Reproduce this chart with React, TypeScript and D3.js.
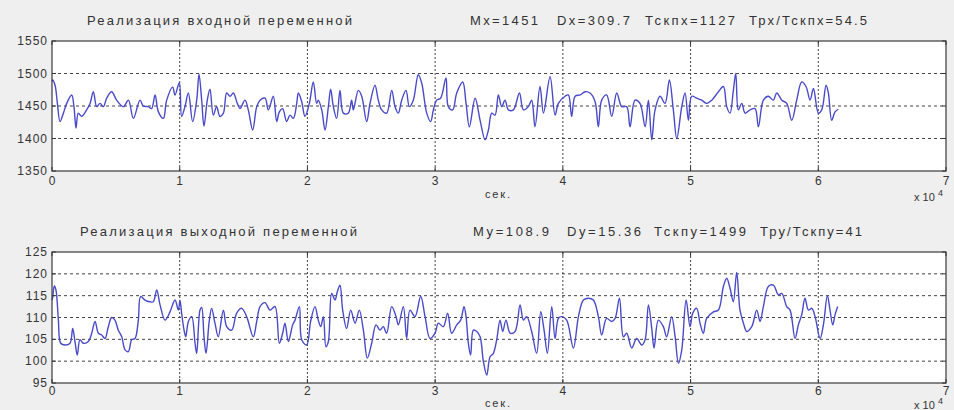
import React from "react";
import * as d3 from "d3";

// Time axis ticks (seconds) and their labels (×10^4)
const xTicks = [0, 10000, 20000, 30000, 40000, 50000, 60000, 70000];
const xTickLabels = ["0", "1", "2", "3", "4", "5", "6", "7"];

const inputTicks = [1350, 1400, 1450, 1500, 1550];
const outputTicks = [95, 100, 105, 110, 115, 120, 125];

// Input variable realisation: time (s) and value
const inputTime = [
  0, 50, 240, 420, 630, 890, 1150, 1540, 1720, 1880, 2060, 2320, 2710, 2980, 3240, 3500, 3760, 4020, 4280, 4670,
  5060, 5590, 5980, 6370, 6890, 7150, 7540, 7800, 8070, 8330, 8720, 8980, 9450, 9630, 9970, 10150, 10410, 10680,
  11010, 11330, 11510, 11720, 11900, 12160, 12370, 12630, 12890, 13150, 13420, 13680, 13940, 14200, 14510, 14720,
  15110, 15370, 15710, 16030, 16290, 16680, 16940, 17330, 17590, 17800, 18060, 18370, 18640, 18900, 19160, 19290,
  19550, 19810, 20150, 20460, 20720, 20850, 21120, 21380, 21640, 21820, 22030, 22290, 22550, 22810, 23200, 23460,
  23590, 23990, 24250, 24640, 24900, 25290, 25550, 25810, 26200, 26600, 26860, 27120, 27380, 27720, 27980, 28290,
  28680, 28950, 29340, 29650, 29860, 30120, 30430, 30850, 31030, 31370, 31690, 32160, 32420, 32680, 33130, 33520,
  33910, 34170, 34430, 34690, 34950, 35210, 35470, 35740, 36130, 36600, 36910, 37300, 37560, 37820, 38210, 38480,
  39000, 39390, 39650, 40170, 40430, 40690, 40960, 41350, 41740, 42130, 42520, 42780, 43040, 43430, 43830, 44220,
  44610, 45000, 45260, 45650, 46040, 46440, 46700, 46960, 47220, 47610, 48000, 48340, 48650, 48920, 49310, 49570,
  49830, 50090, 50480, 50870, 51260, 51660, 52180, 52570, 52830, 53090, 53350, 53540, 53740, 54010, 54270, 54660,
  55050, 55310, 55700, 56090, 56480, 56750, 57140, 57530, 57920, 58310, 58700, 59040, 59360, 59620, 60010, 60270,
  60610, 60790, 61050, 61310, 61570,
];
const inputValues = [
  1488, 1490, 1482, 1454, 1426, 1439, 1454, 1467, 1449, 1416, 1439, 1434, 1444, 1454, 1472, 1449, 1454, 1449, 1462,
  1472, 1459, 1449, 1459, 1431, 1459, 1450, 1449, 1446, 1467, 1441, 1431, 1459, 1479, 1467, 1486, 1434, 1449, 1470,
  1426, 1459, 1499, 1459, 1419, 1459, 1476, 1436, 1449, 1434, 1439, 1470, 1465, 1470, 1454, 1446, 1459, 1444, 1413,
  1449, 1459, 1462, 1444, 1465, 1426, 1441, 1446, 1426, 1436, 1431, 1454, 1470, 1457, 1434, 1454, 1487, 1454, 1459,
  1444, 1413, 1449, 1476, 1449, 1431, 1474, 1439, 1439, 1459, 1444, 1474, 1465, 1426, 1454, 1482, 1459, 1444, 1439,
  1474, 1449, 1439, 1459, 1474, 1449, 1459, 1498, 1485, 1439, 1426, 1444, 1459, 1462, 1493, 1449, 1444, 1470, 1487,
  1454, 1418, 1462, 1428, 1398, 1413, 1439, 1436, 1467, 1449, 1459, 1444, 1444, 1470, 1444, 1449, 1459, 1418, 1480,
  1439, 1495, 1436, 1454, 1465, 1467, 1434, 1465, 1467, 1472, 1470, 1457, 1418, 1459, 1467, 1434, 1470, 1449, 1449,
  1418, 1459, 1454, 1418, 1459, 1398, 1444, 1465, 1454, 1490, 1444, 1400, 1449, 1470, 1428, 1465, 1462, 1459, 1454,
  1459, 1472, 1480, 1449, 1439, 1474, 1500, 1444, 1454, 1439, 1444, 1446, 1418, 1459, 1465, 1459, 1470, 1459, 1454,
  1428, 1459, 1487, 1480, 1459, 1477, 1439, 1444, 1482, 1470, 1428, 1441, 1445,
];

// Output variable realisation: time (s) and value
const outputTime = [
  0, 50, 180, 310, 500, 680, 1020, 1410, 1620, 1800, 1980, 2190, 2450, 2850, 3110, 3370, 3630, 3890, 4150, 4410,
  4670, 4930, 5190, 5460, 5720, 5980, 6240, 6500, 6760, 6940, 7280, 7670, 7930, 8200, 8460, 8850, 9240, 9630, 9890,
  10020, 10150, 10340, 10470, 10680, 10940, 11200, 11330, 11590, 11720, 11900, 12060, 12320, 12500, 12760, 13020,
  13420, 13680, 14070, 14460, 14850, 15240, 15760, 16030, 16290, 16680, 17070, 17460, 17800, 18060, 18240, 18510,
  18840, 19030, 19370, 19550, 19940, 20250, 20590, 20850, 21040, 21250, 21450, 21640, 21900, 22160, 22340, 22550,
  22760, 23070, 23390, 23730, 24060, 24380, 24690, 25030, 25370, 25680, 25940, 26200, 26600, 26940, 27120, 27510,
  27770, 28030, 28420, 28870, 29210, 29600, 29990, 30250, 30640, 30980, 31290, 31690, 32000, 32260, 32420, 32600,
  32780, 32990, 33260, 33520, 33780, 34040, 34300, 34560, 34820, 35080, 35290, 35550, 35870, 36260, 36650, 36910,
  37170, 37560, 37950, 38270, 38530, 38790, 39130, 39390, 39650, 39910, 40300, 40820, 41220, 41610, 42000, 42390,
  42780, 43040, 43430, 43830, 44090, 44430, 44740, 45000, 45390, 45780, 46180, 46440, 46700, 46960, 47140, 47480,
  47870, 48130, 48520, 48790, 49050, 49310, 49650, 49960, 50170, 50480, 50740, 51000, 51260, 51790, 52180, 52570,
  52830, 53090, 53350, 53610, 53870, 54140, 54400, 54790, 55180, 55440, 55700, 56090, 56480, 56880, 57140, 57530,
  57790, 58180, 58440, 58700, 58960, 59230, 59490, 59750, 60140, 60400, 60710, 60920, 61130, 61310, 61520,
];
const outputValues = [
  114.0, 114.5, 117.2, 116.3, 109.4, 104.1, 103.7, 104.1, 107.5, 104.5, 101.4, 104.9, 104.1, 104.5, 106.4, 109.1,
  106.4, 106.0, 105.2, 107.9, 110.0, 109.4, 107.1, 105.6, 102.6, 102.2, 104.9, 105.2, 109.4, 114.8, 114.0, 113.6,
  113.6, 116.3, 112.9, 109.4, 111.3, 114.0, 111.7, 113.9, 111.0, 107.1, 105.6, 109.1, 110.2, 104.1, 101.8, 111.7,
  112.3, 105.6, 101.8, 109.4, 112.1, 108.7, 105.6, 111.7, 107.9, 107.1, 111.0, 112.1, 110.2, 105.6, 109.1, 112.5,
  113.4, 111.7, 112.5, 104.1, 106.4, 108.7, 104.5, 108.3, 109.4, 112.5, 104.9, 103.7, 109.1, 112.5, 109.4, 107.9,
  110.2, 103.3, 104.5, 115.5, 114.0, 115.9, 117.4, 111.7, 107.5, 111.7, 108.7, 111.7, 107.1, 100.7, 104.1, 108.3,
  107.1, 107.9, 106.4, 112.5, 110.2, 108.3, 112.5, 105.2, 111.7, 110.2, 114.8, 110.2, 105.2, 106.4, 108.7, 107.9,
  111.0, 106.4, 108.3, 109.4, 112.5, 110.2, 104.1, 101.4, 107.1, 106.8, 105.6, 99.9, 96.8, 101.0, 101.8, 104.9,
  109.4, 106.8, 109.4, 106.4, 106.8, 112.9, 109.4, 110.2, 106.8, 101.8, 111.3, 107.1, 101.8, 112.5, 105.2, 109.8,
  110.2, 109.4, 103.0, 110.2, 114.0, 114.4, 114.0, 110.2, 106.0, 109.8, 109.1, 109.8, 114.4, 105.6, 106.4, 103.0,
  105.2, 103.7, 104.9, 112.9, 107.5, 103.0, 109.4, 107.9, 105.6, 110.2, 105.6, 99.5, 102.6, 114.0, 107.9, 111.0,
  112.1, 108.7, 106.4, 109.8, 111.3, 111.7, 117.1, 119.0, 116.7, 113.6, 120.3, 111.7, 108.7, 106.8, 107.9, 111.7,
  109.1, 112.5, 117.1, 117.4, 115.2, 115.5, 112.5, 111.7, 105.2, 108.3, 110.6, 114.4, 111.7, 112.1, 110.2, 105.2,
  108.3, 115.0, 111.7, 108.3, 110.6, 112.5,
];

const W = 954;
const H = 410;
const FONT = "'Liberation Sans', Arial, sans-serif";
const TEXT = "#333";
const LINE = "#4a4ac8";

type PanelProps = {
  top: number;
  bottom: number;
  domain: [number, number];
  ticks: number[];
  time: number[];
  values: number[];
  title: string;
  stats: { text: string; x: number; w: number }[];
  titleW: number;
  titleX: number;
  titleY: number;
  labelY: number;
  unitY: number;
  expY: number;
};

const x = d3.scaleLinear().domain([0, 70000]).range([52, 946]);

function Panel(p: PanelProps) {
  const y = d3.scaleLinear().domain(p.domain).range([p.bottom, p.top]);
  const pts: [number, number][] = p.time.map((t, i) => [t, p.values[i]]);
  const line = d3
    .line<[number, number]>()
    .x((d) => x(d[0]))
    .y((d) => y(d[1]))
    .curve(d3.curveCatmullRom.alpha(0.5));
  const [x0, x1] = x.range();
  return (
    <g>
      <rect x={x0} y={p.top} width={x1 - x0} height={p.bottom - p.top} fill="#fff" />
      {/* horizontal grid */}
      {p.ticks.slice(1, -1).map((v) => (
        <line key={"h" + v} x1={x0} x2={x1} y1={y(v)} y2={y(v)} stroke="#444" strokeWidth={1} strokeDasharray="3,3" />
      ))}
      {/* vertical grid */}
      {xTicks.slice(1, -1).map((v) => (
        <line key={"v" + v} x1={x(v)} x2={x(v)} y1={p.top} y2={p.bottom} stroke="#444" strokeWidth={1} strokeDasharray="2,2" />
      ))}
      <path d={line(pts) ?? ""} fill="none" stroke={LINE} strokeWidth={1.4} strokeLinejoin="round" />
      {/* tick marks */}
      {xTicks.map((v) => (
        <g key={"tx" + v}>
          <line x1={x(v)} x2={x(v)} y1={p.bottom} y2={p.bottom - 4} stroke="#333" />
          <line x1={x(v)} x2={x(v)} y1={p.top} y2={p.top + 4} stroke="#333" />
        </g>
      ))}
      {p.ticks.map((v) => (
        <g key={"ty" + v}>
          <line x1={x0} x2={x0 + 4} y1={y(v)} y2={y(v)} stroke="#333" />
          <line x1={x1} x2={x1 - 4} y1={y(v)} y2={y(v)} stroke="#333" />
        </g>
      ))}
      <rect x={x0} y={p.top} width={x1 - x0} height={p.bottom - p.top} fill="none" stroke="#3a3a3a" strokeWidth={1.2} />
      {/* y tick labels */}
      {p.ticks.map((v) => (
        <text key={"ly" + v} x={x0 - 4} y={y(v) + 4} textAnchor="end" fontSize={12} letterSpacing={1} fill={TEXT} fontFamily={FONT}>
          {v}
        </text>
      ))}
      {/* x tick labels */}
      {xTicks.map((v, i) => (
        <text key={"lx" + v} x={x(v)} y={p.labelY} textAnchor="middle" fontSize={12} fill={TEXT} fontFamily={FONT}>
          {xTickLabels[i]}
        </text>
      ))}
      <text x={485} y={p.unitY} fontSize={11} fill={TEXT} fontFamily={FONT} textLength={25} lengthAdjust="spacing">
        сек.
      </text>
      <text x={914} y={p.expY} fontSize={11} fill={TEXT} fontFamily={FONT}>
        x 10
      </text>
      <text x={938} y={p.expY - 5} fontSize={9} fill={TEXT} fontFamily={FONT}>
        4
      </text>
      <text x={p.titleX} y={p.titleY} fontSize={13} fill={TEXT} fontFamily={FONT} textLength={p.titleW} lengthAdjust="spacing">
        {p.title}
      </text>
      {p.stats.map((s) => (
        <text key={s.text} x={s.x} y={p.titleY} fontSize={13} fill={TEXT} fontFamily={FONT} textLength={s.w} lengthAdjust="spacing">
          {s.text}
        </text>
      ))}
    </g>
  );
}

export default function App() {
  return (
    <svg
      width={W}
      height={H}
      style={{ position: "absolute", left: 0, top: 0, display: "block", background: "#efefef" }}
    >
      <rect width={W} height={H} fill="#efefef" />
      <Panel
        top={41}
        bottom={171}
        domain={[1350, 1550]}
        ticks={inputTicks}
        time={inputTime}
        values={inputValues}
        title="Реализация входной переменной"
        titleX={87}
        titleW={265}
        titleY={25}
        labelY={185}
        unitY={198}
        expY={201}
        stats={[
          { text: "Mx=1451", x: 470, w: 68 },
          { text: "Dx=309.7", x: 557, w: 73 },
          { text: "Тскпх=1127", x: 645, w: 90 },
          { text: "Трх/Тскпх=54.5", x: 749, w: 118 },
        ]}
      />
      <Panel
        top={252}
        bottom={383}
        domain={[95, 125]}
        ticks={outputTicks}
        time={outputTime}
        values={outputValues}
        title="Реализация выходной переменной"
        titleX={80}
        titleW={277}
        titleY={236}
        labelY={395}
        unitY={407}
        expY={409}
        stats={[
          { text: "My=108.9", x: 473, w: 76 },
          { text: "Dy=15.36", x: 567, w: 74 },
          { text: "Тскпy=1499", x: 654, w: 92 },
          { text: "Трy/Тскпy=41", x: 760, w: 102 },
        ]}
      />
    </svg>
  );
}
